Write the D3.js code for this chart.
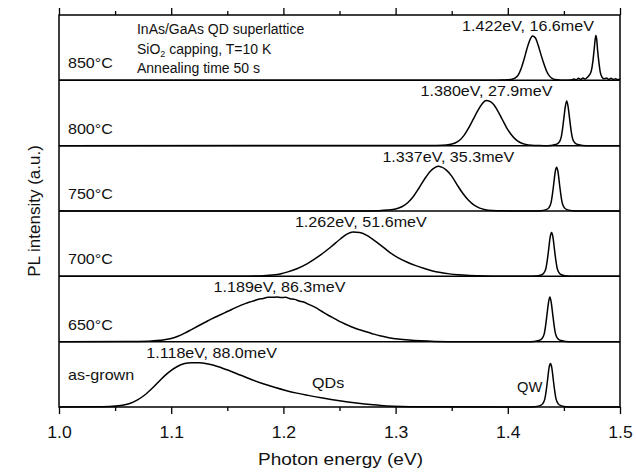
<!DOCTYPE html>
<html>
<head>
<meta charset="utf-8">
<script src="https://cdn.jsdelivr.net/npm/d3@7"></script>
<style>
  html, body { margin: 0; padding: 0; background: #fff; }
  svg { display: block; font-family: "Liberation Sans", Arial, Helvetica, sans-serif; }
</style>
</head>
<body>
<svg id="chart" width="636" height="472"></svg>
<script>
// ---------------- data ----------------
const panels = ["850°C", "800°C", "750°C", "700°C", "650°C", "as-grown"];
const peakLabels = ["1.422eV, 16.6meV", "1.380eV, 27.9meV", "1.337eV, 35.3meV",
                    "1.262eV, 51.6meV", "1.189eV, 86.3meV", "1.118eV, 88.0meV"];
const peakLabelEnergy = [1.418, 1.381, 1.347, 1.269, 1.1965, 1.136];
const majorTicks = [1.0, 1.1, 1.2, 1.3, 1.4, 1.5];
const minorTicks = [1.05, 1.15, 1.25, 1.35, 1.45];
const insetLines = ["InAs/GaAs QD superlattice", "SiO|2| capping, T=10 K", "Annealing time 50 s"];

// [photon energy (eV), PL intensity (normalised)]
const t850 = [[1.000,0],[1.380,0],[1.392,0.004],[1.400,0.012],[1.4045,0.03],[1.407,0.06],[1.4095,0.13],[1.412,0.27],
  [1.4145,0.47],[1.417,0.70],[1.4195,0.89],[1.422,0.99],[1.4245,0.95],[1.427,0.79],[1.4295,0.58],[1.432,0.38],
  [1.4345,0.21],[1.437,0.10],[1.4395,0.045],[1.442,0.017],[1.447,0.004],[1.452,0],[1.456,0.005],[1.459,0.03],
  [1.461,0.012],[1.463,0.045],[1.465,0.02],[1.467,0.05],[1.469,0.03],[1.471,0.07],[1.4725,0.11],[1.4745,0.22],
  [1.4758,0.42],[1.477,0.70],[1.4778,0.90],[1.4785,1.0],[1.4793,0.90],[1.480,0.68],[1.4812,0.40],[1.4825,0.17],
  [1.484,0.07],[1.486,0.035],[1.488,0.05],[1.490,0.02],[1.492,0.045],[1.494,0.02],[1.496,0.035],[1.498,0.015],[1.500,0.03]];

const t800 = [[1.000,0],[1.330,0.003],[1.342,0.01],[1.348,0.025],[1.353,0.06],[1.357,0.12],[1.361,0.23],[1.365,0.39],
  [1.369,0.58],[1.373,0.77],[1.377,0.93],[1.3805,1.01],[1.384,0.99],[1.387,0.93],[1.391,0.78],[1.395,0.59],
  [1.399,0.40],[1.403,0.25],[1.407,0.14],[1.411,0.07],[1.416,0.028],[1.421,0.01],[1.428,0.002],[1.4325,0],
  [1.4385,0.005],[1.4425,0.025],[1.4455,0.07],[1.4475,0.18],[1.4487,0.36],[1.450,0.62],[1.4513,0.88],[1.4525,1.0],
  [1.4537,0.88],[1.455,0.62],[1.4563,0.36],[1.4575,0.18],[1.4595,0.07],[1.4625,0.025],[1.4665,0.005],[1.4725,0],[1.500,0]];

const t750 = [[1.000,0],[1.270,0.002],[1.285,0.008],[1.293,0.02],[1.300,0.045],[1.306,0.10],[1.311,0.19],[1.316,0.33],
  [1.321,0.52],[1.326,0.72],[1.331,0.89],[1.335,0.97],[1.338,1.0],[1.341,0.98],[1.345,0.92],[1.350,0.78],
  [1.355,0.58],[1.360,0.39],[1.365,0.24],[1.370,0.13],[1.375,0.065],[1.380,0.03],[1.386,0.012],[1.395,0.003],
  [1.4235,0],[1.4295,0.005],[1.4335,0.025],[1.4365,0.07],[1.4385,0.18],[1.4397,0.36],[1.441,0.62],[1.4423,0.88],
  [1.4435,0.98],[1.4447,0.88],[1.446,0.62],[1.4473,0.36],[1.4485,0.18],[1.4505,0.07],[1.4535,0.025],[1.4575,0.005],
  [1.4635,0],[1.500,0]];

const t700 = [[1.000,0],[1.160,0.002],[1.180,0.01],[1.190,0.03],[1.198,0.06],[1.204,0.10],[1.212,0.17],[1.221,0.28],
  [1.231,0.44],[1.242,0.65],[1.251,0.84],[1.257,0.95],[1.262,0.99],[1.268,0.98],[1.274,0.92],[1.280,0.82],
  [1.288,0.67],[1.295,0.53],[1.302,0.42],[1.310,0.32],[1.318,0.24],[1.325,0.18],[1.333,0.12],[1.340,0.085],
  [1.348,0.055],[1.356,0.035],[1.366,0.02],[1.380,0.008],[1.400,0.002],[1.419,0],[1.425,0.005],[1.429,0.025],
  [1.432,0.07],[1.434,0.18],[1.4352,0.36],[1.4365,0.62],[1.4378,0.88],[1.439,0.98],[1.4402,0.88],[1.4415,0.62],
  [1.4428,0.36],[1.444,0.18],[1.446,0.07],[1.449,0.025],[1.453,0.005],[1.459,0],[1.500,0]];

const t650 = [[1.000,0],[1.060,0.003],[1.080,0.01],[1.090,0.03],[1.100,0.07],[1.106,0.12],[1.112,0.19],[1.118,0.27],
  [1.124,0.35],[1.130,0.43],[1.136,0.51],[1.142,0.58],[1.148,0.65],[1.154,0.72],[1.160,0.79],[1.166,0.85],
  [1.170,0.885],[1.174,0.915],[1.178,0.95],[1.182,0.965],[1.186,0.99],[1.190,0.99],[1.194,1.0],
  [1.198,0.985],[1.202,0.99],[1.206,0.96],[1.210,0.945],[1.214,0.91],[1.218,0.885],[1.222,0.84],[1.228,0.77],
  [1.234,0.68],[1.240,0.59],[1.246,0.51],[1.252,0.43],[1.258,0.36],[1.264,0.30],[1.270,0.25],[1.278,0.19],
  [1.286,0.13],[1.294,0.09],[1.302,0.06],[1.312,0.035],[1.322,0.018],[1.335,0.006],[1.360,0],[1.4175,0],
  [1.4235,0.005],[1.4275,0.025],[1.4305,0.07],[1.4325,0.18],[1.4337,0.36],[1.435,0.62],[1.4363,0.88],[1.4375,1.0],
  [1.4387,0.88],[1.440,0.62],[1.4413,0.36],[1.4425,0.18],[1.4445,0.07],[1.4475,0.025],[1.4515,0.005],[1.4575,0],[1.500,0]];

const asGrown = [[1.000,0],[1.030,0.004],[1.045,0.012],[1.055,0.035],[1.063,0.08],[1.070,0.16],[1.077,0.28],[1.084,0.44],
  [1.091,0.62],[1.098,0.78],[1.105,0.90],[1.112,0.97],[1.118,0.99],[1.125,0.99],[1.133,0.96],[1.142,0.90],
  [1.152,0.81],[1.162,0.71],[1.172,0.61],[1.182,0.52],[1.192,0.44],[1.202,0.37],[1.212,0.31],[1.222,0.26],
  [1.235,0.20],[1.250,0.14],[1.265,0.09],[1.280,0.05],[1.292,0.025],[1.305,0.01],[1.320,0.003],[1.400,0],
  [1.418,0],[1.424,0.005],[1.428,0.025],[1.431,0.07],[1.433,0.18],[1.4342,0.36],[1.4355,0.62],[1.4368,0.88],
  [1.438,0.97],[1.4392,0.88],[1.4405,0.62],[1.4418,0.36],[1.443,0.18],[1.445,0.07],[1.448,0.025],[1.452,0.005],
  [1.458,0],[1.500,0]];

const spectra = [t850, t800, t750, t700, t650, asGrown];

// ---------------- drawing ----------------
const svg = d3.select("#chart");
const plotL = 59, plotR = 620, plotT = 15, plotB = 407;

const x = d3.scaleLinear().domain([1.0, 1.5]).range([plotL, plotR]);
const band = d3.scaleBand().domain(panels).range([plotT, plotB]).padding(0);
const yFor = name => d3.scaleLinear().domain([0, 1.46])
  .range([band(name) + band.bandwidth(), band(name)]);

const textColor = "#111";
function label(px, py, str, size, sx, anchor) {
  return svg.append("text")
    .attr("transform", `translate(${px},${py}) scale(${sx},1)`)
    .attr("text-anchor", anchor || "start")
    .attr("font-size", size).attr("fill", textColor)
    .text(str);
}

// curves
panels.forEach((name, i) => {
  const y = yFor(name);
  const line = d3.line().x(d => x(d[0])).y(d => y(d[1])).curve(d3.curveMonotoneX);
  svg.append("path").datum(spectra[i])
    .attr("d", line).attr("fill", "none")
    .attr("stroke", "#000").attr("stroke-width", 1.5).attr("stroke-linejoin", "round");

  const yb = band(name) + band.bandwidth();
  label(x(1.008), yb - (name === "as-grown" ? 27 : 12), name, 14, 1.15);
  label(x(peakLabelEnergy[i]), y(1.10), peakLabels[i], 14, 1.15, "middle");
});

// panel separators
panels.slice(0, -1).forEach(name => {
  const yb = band(name) + band.bandwidth();
  svg.append("line").attr("x1", plotL).attr("x2", plotR).attr("y1", yb).attr("y2", yb)
    .attr("stroke", "#000").attr("stroke-width", 1.5);
});

// frame
svg.append("rect").attr("x", plotL).attr("y", plotT)
  .attr("width", plotR - plotL).attr("height", plotB - plotT)
  .attr("fill", "none").attr("stroke", "#000").attr("stroke-width", 1.5);

// axes
const axB = svg.append("g").attr("transform", `translate(0,${plotB})`)
  .call(d3.axisBottom(x).tickValues(majorTicks).tickFormat(d3.format(".1f")).tickSize(7).tickPadding(13));
const axBm = svg.append("g").attr("transform", `translate(0,${plotB})`)
  .call(d3.axisBottom(x).tickValues(minorTicks).tickFormat("").tickSize(4));
const axT = svg.append("g").attr("transform", `translate(0,${plotT})`)
  .call(d3.axisTop(x).tickValues(majorTicks).tickFormat("").tickSize(7));
const axTm = svg.append("g").attr("transform", `translate(0,${plotT})`)
  .call(d3.axisTop(x).tickValues(minorTicks).tickFormat("").tickSize(4));
[axB, axBm, axT, axTm].forEach(g => {
  g.select(".domain").remove();
  g.selectAll(".tick line").attr("stroke", "#000").attr("stroke-width", 1.3);
});
axB.selectAll(".tick text").attr("font-size", 16).attr("fill", textColor)
  .attr("font-family", "'Liberation Sans', Arial, sans-serif")
  .attr("transform", "scale(1.1,1)");

// axis titles
label((plotL + plotR) / 2 + 1, 465, "Photon energy (eV)", 17, 1.12, "middle");
svg.append("text")
  .attr("transform", `translate(40,${(plotT + plotB) / 2}) rotate(-90)`)
  .attr("text-anchor", "middle").attr("font-size", 17).attr("fill", textColor)
  .text("PL intensity (a.u.)");

// inset description
const insetBase = [34, 54, 73];
insetLines.forEach((s, i) => {
  const t = svg.append("text").attr("x", x(1.0695)).attr("y", insetBase[i])
    .attr("font-size", 14).attr("fill", textColor);
  s.split("|").forEach((part, j) => {
    const ts = t.append("tspan").text(part);
    if (j === 1) ts.attr("font-size", 9).attr("dy", 3);
    if (j === 2) ts.attr("dy", -3);
  });
});

// QDs / QW labels
const yAs = yFor("as-grown");
label(x(1.2255), yAs(0.42), "QDs", 14, 1.15);
label(x(1.4082), yAs(0.34), "QW", 14, 1.05);
</script>
</body>
</html>
